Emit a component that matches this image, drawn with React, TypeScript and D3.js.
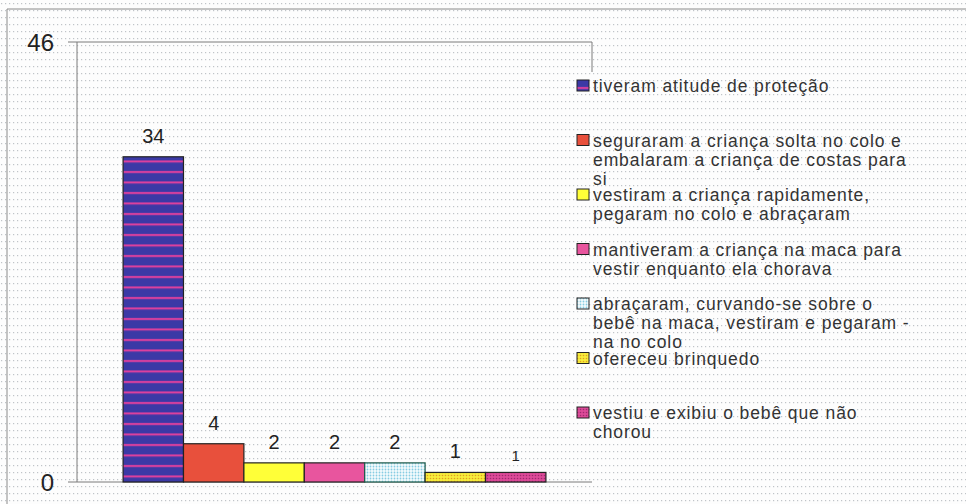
import React from 'react';
import * as d3 from 'd3';

// chart data
const series = [
  'tiveram atitude de proteção',
  'seguraram a criança solta no colo e embalaram a criança de costas para si',
  'vestiram a criança rapidamente, pegaram no colo e abraçaram',
  'mantiveram a criança na maca para vestir enquanto ela chorava',
  'abraçaram, curvando-se sobre o bebê na maca, vestiram e pegaram-na no colo',
  'ofereceu brinquedo',
  'vestiu e exibiu o bebê que não chorou',
];
const values = [34, 4, 2, 2, 2, 1, 1];
const legendLines = [
  ['tiveram atitude de proteção'],
  ['seguraram a criança solta no colo e', 'embalaram a criança de costas para', 'si'],
  ['vestiram a criança rapidamente,', 'pegaram no colo e abraçaram'],
  ['mantiveram a criança na maca para', 'vestir enquanto ela chorava'],
  ['abraçaram, curvando-se sobre o', 'bebê na maca, vestiram e pegaram -', 'na no colo'],
  ['ofereceu brinquedo'],
  ['vestiu e exibiu o bebê que não', 'chorou'],
];
const yTicks = [0, 46];

const fills = [
  'url(#p-stripe)',
  '#e8503c',
  '#ffff38',
  '#e8559e',
  'url(#p-cyan)',
  'url(#p-yellow)',
  'url(#p-pink)',
];
const strokes = ['#222', '#222', '#222', '#222', '#1e5a4a', '#222', '#222'];

const FONT = '"Liberation Sans", Arial, sans-serif';

export default function App() {
  const W = 966;
  const H = 504;
  const plot = { left: 77, right: 592, top: 42, bottom: 482 };

  const x = d3
    .scaleBand<string>()
    .domain(series)
    .range([plot.left, plot.right])
    .paddingInner(0)
    .paddingOuter(0.763);

  const y = d3.scaleLinear().domain([0, 46]).range([plot.bottom, plot.top]);

  const legendY = d3.scalePoint<string>().domain(series).range([86, 413]);
  const lineH = 19;

  return (
    <svg
      width={W}
      height={H}
      style={{ position: 'absolute', left: 0, top: 0, fontFamily: FONT }}
    >
      <defs>
        <pattern id="p-bg" width={4} height={7} patternUnits="userSpaceOnUse">
          <rect width={4} height={7} fill="#fdfdfd" />
          <rect x={1} y={3} width={1.2} height={1.2} fill="#c0c4c8" />
        </pattern>
        <pattern id="p-stripe" width={20} height={10.5} patternUnits="userSpaceOnUse" y={plot.top}>
          <rect width={20} height={10.5} fill="#3b39a6" />
          <rect y={3} width={20} height={2} fill="#e2409e" />
        </pattern>
        <pattern id="p-cyan" width={3} height={3} patternUnits="userSpaceOnUse">
          <rect width={3} height={3} fill="#f4fbfd" />
          <circle cx={1.5} cy={1.5} r={0.9} fill="#86cce2" />
        </pattern>
        <pattern id="p-yellow" width={3} height={3} patternUnits="userSpaceOnUse">
          <rect width={3} height={3} fill="#f7ec3a" />
          <circle cx={1.5} cy={1.5} r={0.8} fill="#e0a020" />
        </pattern>
        <pattern id="p-pink" width={3} height={3} patternUnits="userSpaceOnUse">
          <rect width={3} height={3} fill="#dc4a98" />
          <circle cx={1.5} cy={1.5} r={0.8} fill="#a02870" />
        </pattern>
      </defs>

      <rect width={W} height={H} fill="url(#p-bg)" />
      {/* outer chart border */}
      <line x1={7} x2={W} y1={9} y2={9} stroke="#8a8a8a" />
      <line x1={7} x2={7} y1={9} y2={H} stroke="#8a8a8a" />

      {/* plot area frame */}
      <line x1={plot.left} x2={plot.right} y1={plot.top} y2={plot.top} stroke="#7a7a7a" />
      <line x1={plot.right} x2={plot.right} y1={plot.top} y2={72} stroke="#7a7a7a" />
      <line x1={plot.left} x2={plot.left} y1={plot.top} y2={plot.bottom} stroke="#7a7a7a" />
      <line x1={plot.left} x2={plot.right} y1={plot.bottom} y2={plot.bottom} stroke="#7a7a7a" />

      {yTicks.map((t) => (
        <g key={t}>
          <line x1={plot.left - 9} x2={plot.left} y1={y(t)} y2={y(t)} stroke="#7a7a7a" />
          <text
            x={54}
            y={y(t)}
            dy="0.36em"
            textAnchor="end"
            fontSize={24}
            fill="#222"
          >
            {t}
          </text>
        </g>
      ))}

      {series.map((s, i) => {
        const small = i === series.length - 1;
        return (
          <g key={s}>
            <rect
              x={x(s)}
              y={y(values[i])}
              width={x.bandwidth()}
              height={y(0) - y(values[i])}
              fill={fills[i]}
              stroke={strokes[i]}
              strokeWidth={1.2}
            />
            <text
              x={(x(s) as number) + x.bandwidth() / 2}
              y={y(values[i]) - (small ? 11 : 14)}
              textAnchor="middle"
              fontSize={small ? 15 : 20}
              fill="#222"
            >
              {values[i]}
            </text>
          </g>
        );
      })}

      {series.map((s, i) => {
        const cy = legendY(s) as number;
        return (
          <g key={'lg' + s}>
            <rect
              x={577}
              y={cy - 6}
              width={12}
              height={11}
              fill={fills[i]}
              stroke="#222"
              strokeWidth={1}
            />
            {legendLines[i].map((ln, j) => (
              <text
                key={j}
                x={593}
                y={cy + j * lineH}
                dy="0.35em"
                fontSize={17.5}
                letterSpacing={0.9}
                fill="#333"
              >
                {ln}
              </text>
            ))}
          </g>
        );
      })}
    </svg>
  );
}
